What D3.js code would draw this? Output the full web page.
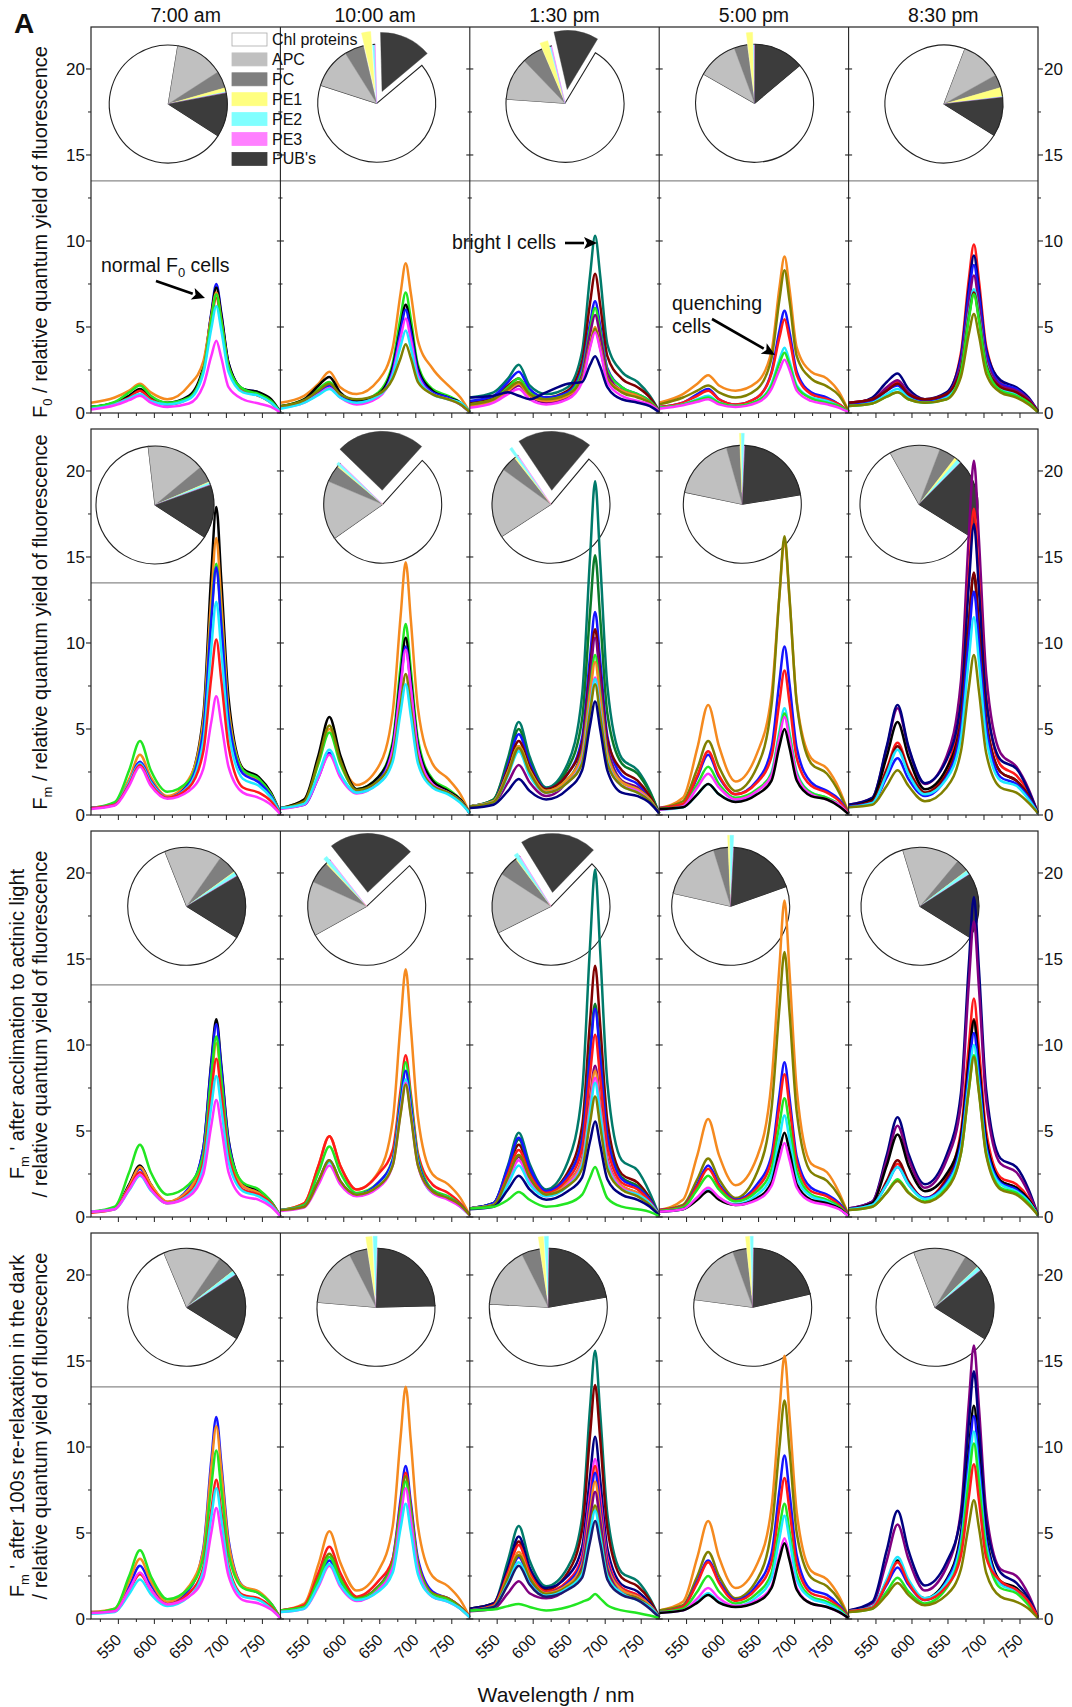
<!DOCTYPE html>
<html><head><meta charset="utf-8">
<script src="https://cdn.jsdelivr.net/npm/d3@7"></script>
<style>body{margin:0;background:#fff}svg text{font-family:"Liberation Sans",Arial,sans-serif;fill:#111}</style>
</head><body>
<svg id="chart" width="1072" height="1707"></svg>
<script>
// ---------------- DATA ----------------
const wavelengths = [512, 545, 565, 580, 595, 618, 648, 668, 679, 686, 693, 703, 723, 745, 762, 775];
const times = ["7:00 am", "10:00 am", "1:30 pm", "5:00 pm", "8:30 pm"];
const xDomain = [512, 775];
const yDomain = [0, 22.44];
const xMajorTicks = [550, 600, 650, 700, 750];
const xMinorTicks = [525, 575, 625, 675, 725];
const yMajorTicks = [0, 5, 10, 15, 20];
const yMinorTicks = [2.5, 7.5, 12.5, 17.5];
const splitLevel = 13.5;

const pieCategories = ["Chl proteins", "APC", "PC", "PE1", "PE2", "PE3", "PUB's"];

const spectraF0 = [
 [["b",[0.35,0.6,1.0,1.3,0.8,0.5,0.9,2.6,5.8,7.5,5.8,2.9,1.4,1.2,0.7,0.05]],
  ["k",[0.35,0.6,1.0,1.4,0.9,0.6,1.0,2.7,5.7,7.3,5.7,2.9,1.4,1.2,0.8,0.05]],
  ["o",[0.6,0.9,1.3,1.7,1.2,0.8,1.6,3.0,5.6,7.0,5.4,2.7,1.3,1.0,0.6,0.05]],
  ["r",[0.3,0.55,0.9,1.3,0.8,0.5,0.85,2.5,5.3,6.7,5.2,2.6,1.3,1.0,0.6,0.05]],
  ["g",[0.35,0.65,1.2,1.6,1.0,0.6,0.9,2.5,5.4,6.9,5.3,2.7,1.4,1.1,0.7,0.05]],
  ["c",[0.25,0.5,0.85,1.1,0.7,0.5,0.8,2.3,4.9,6.2,4.8,2.4,1.2,1.0,0.6,0.05]],
  ["m",[0.2,0.45,0.75,1.0,0.6,0.35,0.55,1.6,3.3,4.2,3.2,1.5,0.8,0.55,0.35,0.02]]],
 [["o",[0.6,1.0,1.7,2.4,1.5,1.1,1.9,3.8,7.0,8.7,7.0,4.2,2.6,1.6,0.9,0.05]],
  ["g",[0.4,0.8,1.4,1.8,1.1,0.7,1.2,2.9,5.6,7.0,5.5,2.8,1.4,1.0,0.6,0.05]],
  ["k",[0.4,0.8,1.6,2.1,1.2,0.7,1.1,2.7,5.0,6.3,5.0,2.6,1.3,0.9,0.6,0.05]],
  ["b",[0.3,0.7,1.2,1.6,1.0,0.6,1.0,2.5,4.8,6.0,4.7,2.4,1.2,0.9,0.5,0.05]],
  ["m",[0.3,0.6,1.1,1.45,0.9,0.5,0.9,2.3,4.4,5.5,4.3,2.2,1.1,0.8,0.5,0.05]],
  ["c",[0.25,0.6,1.05,1.4,0.9,0.6,1.0,2.2,3.9,4.8,3.8,2.0,1.1,0.8,0.6,0.05]],
  ["ol",[0.4,0.75,1.3,1.7,1.1,0.8,1.1,2.0,3.2,4.0,3.2,1.8,1.1,0.8,0.5,0.05]]],
 [["tl",[0.9,1.2,2.0,2.8,1.6,1.1,1.5,3.6,8.0,10.3,8.0,4.0,2.4,1.8,1.0,0.1]],
  ["dr",[0.6,0.9,1.6,2.0,1.2,0.9,1.3,3.0,6.4,8.1,6.3,3.3,2.0,1.5,0.9,0.1]],
  ["b",[0.7,1.0,1.8,2.4,1.4,0.9,1.2,2.6,5.2,6.5,5.1,2.6,1.5,1.1,0.7,0.1]],
  ["g",[0.5,0.8,1.5,2.0,1.2,0.8,1.1,2.4,4.9,6.1,4.8,2.5,1.5,1.1,0.7,0.1]],
  ["pu",[0.4,0.7,1.2,1.6,1.0,0.6,0.9,2.2,4.6,5.7,4.5,2.3,1.3,1.0,0.6,0.1]],
  ["o",[0.4,0.7,1.3,1.7,1.0,0.7,1.0,2.0,4.0,5.0,3.9,2.0,1.3,1.0,0.6,0.1]],
  ["ol",[0.5,0.8,1.4,1.8,1.1,0.8,1.1,2.0,3.9,4.9,3.8,2.0,1.2,0.9,0.6,0.1]],
  ["m",[0.3,0.6,1.1,1.4,0.8,0.5,0.8,1.8,3.8,4.7,3.7,1.8,1.0,0.7,0.5,0.1]],
  ["nv",[0.9,1.0,1.2,1.0,0.8,1.2,1.7,1.8,2.8,3.3,2.7,1.5,0.8,0.6,0.4,0.05]]],
 [["o",[0.6,1.1,1.7,2.2,1.6,1.3,1.8,3.6,7.3,9.1,7.2,3.8,2.4,2.0,1.2,0.1]],
  ["ol",[0.5,0.9,1.3,1.6,1.2,0.9,1.4,3.2,6.6,8.3,6.5,3.3,2.0,1.55,1.0,0.1]],
  ["b",[0.35,0.6,1.1,1.4,0.8,0.5,0.9,2.4,4.8,5.95,4.7,2.4,1.2,0.9,0.5,0.05]],
  ["r",[0.35,0.6,1.0,1.3,0.8,0.5,0.9,2.3,4.4,5.45,4.3,2.2,1.1,0.8,0.5,0.05]],
  ["c",[0.3,0.5,0.8,1.0,0.6,0.4,0.7,1.7,3.1,3.8,3.0,1.6,0.9,0.7,0.4,0.05]],
  ["g",[0.3,0.5,0.75,0.9,0.6,0.4,0.7,1.6,2.9,3.5,2.8,1.5,0.85,0.6,0.4,0.05]],
  ["m",[0.25,0.45,0.65,0.8,0.5,0.35,0.6,1.4,2.5,3.1,2.5,1.3,0.7,0.5,0.3,0.05]]],
 [["r",[0.6,0.8,1.4,1.8,1.1,0.7,1.1,3.5,7.8,9.8,7.7,3.9,1.8,1.3,0.7,0.1]],
  ["nv",[0.5,0.9,1.8,2.3,1.4,0.8,1.2,3.3,7.3,9.15,7.2,3.7,1.9,1.5,0.9,0.1]],
  ["b",[0.5,0.7,1.3,1.6,1.0,0.7,1.0,3.1,6.9,8.6,6.8,3.5,1.7,1.4,0.8,0.1]],
  ["pu",[0.6,0.8,1.5,1.9,1.2,0.8,1.1,2.9,6.4,8.0,6.3,3.2,1.6,1.3,0.8,0.1]],
  ["c",[0.4,0.6,1.1,1.4,0.9,0.6,0.9,2.6,5.8,7.2,5.7,2.9,1.4,1.1,0.6,0.05]],
  ["dr",[0.6,0.8,1.3,1.7,1.1,0.8,1.1,2.6,5.6,7.0,5.5,2.8,1.5,1.2,0.7,0.1]],
  ["g",[0.4,0.55,0.95,1.2,0.8,0.6,0.8,2.4,5.5,6.9,5.4,2.7,1.3,1.0,0.6,0.05]],
  ["ol",[0.4,0.55,0.95,1.2,0.8,0.6,0.8,2.1,4.6,5.75,4.5,2.3,1.2,0.9,0.5,0.05]]]
];

const spectraFm = [
 [["k",[0.4,0.6,1.9,3.0,1.9,1.0,2.0,5.8,14.0,17.9,13.6,6.8,2.7,2.2,1.3,0.1]],
  ["o",[0.4,0.7,2.1,3.5,2.2,1.1,2.1,5.5,12.6,16.1,12.3,6.2,2.6,2.0,1.2,0.1]],
  ["g",[0.4,0.75,2.6,4.3,2.6,1.35,2.0,5.0,11.5,14.6,11.2,5.7,2.6,2.1,1.2,0.1]],
  ["b",[0.4,0.6,1.9,3.1,2.0,1.0,1.8,4.9,11.3,14.4,11.0,5.6,2.4,1.9,1.1,0.1]],
  ["c",[0.4,0.6,1.9,3.0,1.9,1.0,1.7,4.3,9.7,12.4,9.5,4.9,2.1,1.7,1.0,0.1]],
  ["r",[0.4,0.6,1.8,2.9,1.8,1.0,1.6,3.7,8.0,10.2,7.8,4.0,1.6,1.3,0.8,0.05]],
  ["m",[0.35,0.55,1.7,2.8,1.7,0.95,1.4,2.7,5.4,6.9,5.3,2.8,1.3,1.0,0.6,0.05]]],
 [["o",[0.4,0.9,3.1,5.0,3.2,1.75,2.8,6.0,11.6,14.7,11.4,6.2,3.0,2.1,1.2,0.1]],
  ["g",[0.4,0.8,3.0,4.8,3.0,1.5,2.2,4.3,8.7,11.1,8.5,4.4,2.1,1.5,0.9,0.1]],
  ["k",[0.4,0.9,3.5,5.7,3.5,1.5,2.2,4.1,8.1,10.3,7.9,4.1,2.0,1.4,0.9,0.1]],
  ["b",[0.4,0.6,2.2,3.6,2.3,1.3,2.0,3.9,7.7,9.8,7.5,3.9,1.8,1.3,0.8,0.1]],
  ["m",[0.35,0.6,2.2,3.5,2.2,1.25,1.9,3.8,7.5,9.6,7.4,3.8,1.8,1.3,0.8,0.1]],
  ["ol",[0.4,0.8,3.2,5.2,3.2,1.45,2.0,3.4,6.5,8.2,6.3,3.3,1.7,1.3,0.8,0.1]],
  ["c",[0.4,0.65,2.4,3.8,2.4,1.3,1.8,3.1,6.0,7.6,5.8,3.0,1.6,1.2,0.7,0.1]]],
 [["tl",[0.5,0.9,3.3,5.4,3.4,1.6,3.0,7.0,15.0,19.4,14.8,7.5,3.3,2.6,1.4,0.1]],
  ["dg",[0.5,0.9,3.1,5.0,3.1,1.5,2.7,5.6,11.8,15.1,11.5,5.9,3.0,2.4,1.3,0.1]],
  ["b",[0.5,0.8,2.9,4.7,3.0,1.5,2.4,4.5,9.2,11.8,9.0,4.6,2.3,1.8,1.0,0.1]],
  ["dr",[0.5,0.8,2.7,4.3,2.8,1.5,2.4,4.2,8.5,10.8,8.3,4.4,2.6,2.0,1.1,0.1]],
  ["pu",[0.5,0.7,1.9,2.9,1.9,1.1,2.0,3.9,8.0,10.3,7.9,4.0,2.0,1.6,0.9,0.1]],
  ["g",[0.5,0.8,2.5,4.0,2.6,1.4,2.1,3.6,7.3,9.3,7.1,3.6,1.9,1.5,0.9,0.1]],
  ["o",[0.5,0.8,2.5,4.0,2.6,1.4,2.1,3.5,7.0,8.9,6.8,3.5,1.9,1.5,0.9,0.1]],
  ["m",[0.5,0.75,2.4,3.8,2.4,1.3,1.9,3.2,6.3,8.0,6.1,3.1,1.7,1.4,0.8,0.1]],
  ["c",[0.5,0.75,2.3,3.7,2.3,1.3,1.9,3.1,6.2,7.9,6.0,3.1,1.7,1.3,0.8,0.1]],
  ["ol",[0.5,0.75,2.4,3.9,2.5,1.3,1.9,3.0,6.0,7.6,5.8,3.0,1.7,1.3,0.8,0.1]],
  ["nv",[0.4,0.6,1.4,2.1,1.4,0.9,1.5,2.6,5.2,6.6,5.0,2.6,1.3,1.1,0.7,0.1]]],
 [["o",[0.4,1.0,3.9,6.4,4.0,1.95,3.6,7.0,12.8,16.0,12.5,6.6,3.3,2.7,1.5,0.1]],
  ["ol",[0.4,0.8,2.7,4.3,2.8,1.4,2.8,6.4,12.8,16.2,12.6,6.5,3.0,2.4,1.3,0.1]],
  ["b",[0.4,0.6,2.2,3.5,2.2,1.2,2.0,3.9,7.8,9.8,7.6,3.9,1.9,1.4,0.9,0.1]],
  ["r",[0.4,0.65,2.3,3.7,2.3,1.2,1.9,3.4,6.6,8.4,6.5,3.3,1.7,1.3,0.8,0.1]],
  ["c",[0.3,0.45,1.2,1.8,1.2,0.8,1.4,2.5,4.9,6.2,4.8,2.5,1.3,1.0,0.6,0.05]],
  ["g",[0.35,0.5,1.8,2.8,1.8,1.0,1.5,2.4,4.7,5.9,4.6,2.4,1.3,1.0,0.6,0.05]],
  ["m",[0.3,0.5,1.6,2.4,1.6,0.9,1.4,2.3,4.5,5.7,4.4,2.3,1.2,0.9,0.6,0.05]],
  ["k",[0.35,0.45,1.2,1.8,1.2,0.75,1.2,2.0,4.0,5.0,3.9,2.0,1.1,0.9,0.5,0.05]]],
 [["pu",[0.6,1.0,3.9,6.2,3.9,1.8,3.4,7.8,16.3,20.6,16.0,8.2,3.6,2.8,1.5,0.1]],
  ["r",[0.5,0.8,2.7,4.2,2.7,1.3,2.7,6.7,14.0,17.8,13.7,6.9,2.9,2.3,1.3,0.1]],
  ["nv",[0.6,1.0,4.0,6.4,4.0,1.85,3.2,6.6,13.4,16.9,13.1,6.7,3.2,2.7,1.4,0.1]],
  ["k",[0.5,0.9,3.4,5.4,3.4,1.5,2.7,5.5,11.1,14.0,10.8,5.5,2.5,2.0,1.1,0.1]],
  ["dr",[0.5,0.8,2.6,4.0,2.6,1.3,2.4,5.5,11.2,14.1,10.9,5.5,2.5,2.0,1.1,0.1]],
  ["b",[0.5,0.7,2.2,3.3,2.1,1.1,2.2,5.0,10.3,13.0,10.0,5.1,2.2,1.8,1.0,0.1]],
  ["c",[0.45,0.7,2.4,3.8,2.4,1.2,2.1,4.5,9.1,11.5,8.9,4.5,2.0,1.7,0.9,0.1]],
  ["ol",[0.45,0.6,1.7,2.6,1.7,0.8,1.6,3.7,7.4,9.3,7.2,3.6,1.6,1.3,0.7,0.1]]]
];

const spectraFmActinic = [
 [["k",[0.3,0.5,1.9,3.0,1.9,0.85,1.6,4.0,9.0,11.5,8.8,4.5,1.9,1.5,0.9,0.05]],
  ["b",[0.3,0.5,1.8,2.8,1.8,0.85,1.7,4.0,8.8,11.2,8.6,4.4,1.8,1.4,0.8,0.05]],
  ["o",[0.3,0.5,1.8,2.9,1.9,0.9,1.6,3.6,7.9,10.1,7.8,4.0,1.8,1.4,0.8,0.05]],
  ["g",[0.3,0.6,2.6,4.2,2.6,1.3,1.9,3.6,8.2,10.5,8.0,4.1,2.0,1.6,0.9,0.05]],
  ["r",[0.25,0.45,1.7,2.6,1.7,0.8,1.4,3.2,7.2,9.2,7.1,3.6,1.6,1.3,0.8,0.05]],
  ["c",[0.3,0.45,1.55,2.4,1.55,0.8,1.3,2.9,6.4,8.2,6.3,3.2,1.5,1.2,0.7,0.05]],
  ["m",[0.3,0.45,1.6,2.45,1.6,0.8,1.2,2.5,5.3,6.8,5.2,2.6,1.2,1.0,0.6,0.05]]],
 [["o",[0.4,0.8,3.0,4.7,3.0,1.6,2.6,5.6,11.3,14.4,11.1,5.8,2.5,1.9,1.1,0.1]],
  ["r",[0.4,0.8,3.0,4.7,3.0,1.6,2.5,3.9,7.4,9.4,7.2,3.7,1.9,1.4,0.8,0.1]],
  ["g",[0.4,0.7,2.6,4.1,2.6,1.4,2.0,3.4,7.0,9.0,6.9,3.5,1.6,1.2,0.7,0.1]],
  ["b",[0.4,0.6,2.1,3.3,2.1,1.3,2.0,3.3,6.7,8.5,6.5,3.3,1.5,1.1,0.7,0.1]],
  ["c",[0.4,0.6,2.0,3.2,2.0,1.3,1.8,3.1,6.3,8.0,6.1,3.1,1.4,1.1,0.6,0.1]],
  ["m",[0.35,0.55,1.9,3.0,1.9,1.2,1.7,3.0,6.1,7.8,6.0,3.0,1.4,1.0,0.6,0.1]],
  ["ol",[0.4,0.6,2.1,3.3,2.1,1.3,1.8,3.0,6.0,7.7,5.9,3.0,1.5,1.1,0.7,0.1]]],
 [["tl",[0.5,0.8,3.0,4.9,3.1,1.6,3.2,7.3,15.8,20.2,15.5,7.8,3.3,2.7,1.4,0.1]],
  ["dr",[0.5,0.8,2.7,4.2,2.7,1.5,2.6,5.3,11.4,14.6,11.2,5.6,2.5,2.0,1.1,0.1]],
  ["dg",[0.5,0.8,2.8,4.5,2.8,1.5,2.4,4.6,9.7,12.4,9.5,4.8,2.3,1.8,1.0,0.1]],
  ["b",[0.5,0.8,2.9,4.6,2.9,1.5,2.4,4.5,9.4,12.1,9.3,4.7,2.2,1.7,1.0,0.1]],
  ["r",[0.5,0.7,2.5,3.9,2.5,1.4,2.2,4.0,8.3,10.6,8.1,4.1,2.0,1.6,0.9,0.1]],
  ["pu",[0.5,0.7,2.2,3.5,2.2,1.3,2.0,3.4,6.9,8.8,6.7,3.4,1.8,1.4,0.8,0.1]],
  ["o",[0.5,0.7,2.3,3.6,2.3,1.3,2.0,3.3,6.6,8.5,6.5,3.3,1.8,1.4,0.8,0.1]],
  ["m",[0.5,0.7,2.1,3.3,2.1,1.2,1.9,3.1,6.3,8.1,6.2,3.2,1.7,1.3,0.8,0.1]],
  ["c",[0.5,0.7,1.9,3.0,1.9,1.2,1.8,3.0,6.1,7.8,6.0,3.0,1.6,1.3,0.8,0.1]],
  ["ol",[0.5,0.7,2.3,3.6,2.3,1.3,1.8,2.8,5.5,7.0,5.3,2.8,1.6,1.2,0.7,0.1]],
  ["nv",[0.45,0.6,1.6,2.4,1.6,1.0,1.5,2.3,4.4,5.55,4.2,2.2,1.3,1.0,0.6,0.1]],
  ["g",[0.5,0.6,1.0,1.45,1.0,0.6,0.8,1.3,2.3,2.9,2.2,1.1,0.6,0.45,0.3,0.05]]],
 [["o",[0.4,1.0,3.6,5.7,3.6,1.85,3.5,7.9,14.6,18.4,14.2,7.4,3.1,2.6,1.4,0.1]],
  ["ol",[0.4,0.7,2.2,3.4,2.2,1.1,2.6,6.3,12.2,15.4,11.9,6.1,2.6,2.1,1.2,0.1]],
  ["b",[0.4,0.6,1.9,3.0,1.9,1.0,1.9,3.6,7.1,9.0,6.9,3.5,1.7,1.3,0.8,0.1]],
  ["r",[0.4,0.6,1.8,2.8,1.8,0.95,1.7,3.3,6.5,8.3,6.4,3.2,1.5,1.2,0.7,0.1]],
  ["g",[0.35,0.55,1.6,2.4,1.6,0.9,1.5,2.8,5.4,6.9,5.3,2.7,1.3,1.0,0.6,0.05]],
  ["c",[0.3,0.45,1.1,1.6,1.1,0.75,1.3,2.4,4.6,5.9,4.5,2.3,1.2,0.9,0.5,0.05]],
  ["k",[0.3,0.45,1.0,1.5,1.0,0.7,1.1,2.0,3.9,4.9,3.8,1.9,1.0,0.8,0.5,0.05]],
  ["m",[0.3,0.45,1.15,1.7,1.15,0.7,1.0,1.8,3.4,4.3,3.3,1.7,0.9,0.7,0.45,0.05]]],
 [["nv",[0.5,0.9,3.6,5.8,3.7,1.9,3.6,7.2,14.7,18.6,14.4,7.4,3.4,2.9,1.6,0.1]],
  ["pu",[0.5,0.9,3.3,5.3,3.4,1.7,3.3,6.6,13.6,17.2,13.3,6.8,3.1,2.6,1.4,0.1]],
  ["r",[0.45,0.7,2.0,3.1,2.0,1.1,2.3,5.0,10.0,12.7,9.8,5.0,2.3,1.9,1.1,0.1]],
  ["dr",[0.45,0.7,2.1,3.3,2.1,1.1,2.2,4.6,9.1,11.5,8.9,4.5,2.1,1.7,1.0,0.1]],
  ["k",[0.45,0.8,3.0,4.8,3.0,1.5,2.5,4.7,9.0,11.4,8.8,4.5,2.1,1.7,1.0,0.1]],
  ["b",[0.45,0.7,1.9,2.9,1.9,1.1,2.0,4.3,8.5,10.7,8.3,4.2,2.0,1.6,0.9,0.1]],
  ["c",[0.45,0.7,1.9,2.9,1.9,1.05,1.9,4.0,7.9,10.0,7.7,3.9,1.9,1.5,0.9,0.1]],
  ["g",[0.4,0.6,1.45,2.2,1.45,0.9,1.7,3.7,7.4,9.4,7.3,3.7,1.7,1.4,0.8,0.1]],
  ["ol",[0.4,0.6,1.4,2.1,1.4,0.85,1.6,3.7,7.4,9.3,7.2,3.6,1.6,1.3,0.7,0.1]]]
];

const spectraFmDark = [
 [["b",[0.4,0.5,1.9,3.1,2.0,0.95,1.7,4.1,9.2,11.75,9.0,4.6,1.9,1.5,0.9,0.05]],
  ["o",[0.4,0.6,2.2,3.5,2.2,1.0,1.9,4.0,8.8,11.2,8.6,4.4,1.9,1.6,0.9,0.05]],
  ["g",[0.35,0.6,2.5,4.0,2.5,1.15,1.8,3.6,7.7,9.8,7.5,3.8,1.8,1.5,0.9,0.05]],
  ["r",[0.35,0.45,1.65,2.6,1.7,0.85,1.5,3.0,6.3,8.1,6.2,3.1,1.4,1.2,0.7,0.05]],
  ["c",[0.3,0.4,1.45,2.3,1.45,0.75,1.3,2.8,5.9,7.6,5.8,2.9,1.3,1.1,0.6,0.05]],
  ["m",[0.35,0.45,1.7,2.7,1.7,0.85,1.3,2.4,5.0,6.45,4.9,2.5,1.1,0.9,0.55,0.05]]],
 [["o",[0.5,0.9,3.2,5.1,3.3,1.65,2.8,5.4,10.6,13.5,10.4,5.4,2.5,1.9,1.1,0.1]],
  ["b",[0.5,0.7,2.2,3.4,2.2,1.2,1.9,3.5,7.0,8.9,6.8,3.5,1.6,1.2,0.7,0.1]],
  ["r",[0.5,0.8,2.7,4.2,2.7,1.3,2.2,3.5,6.7,8.5,6.5,3.3,1.5,1.2,0.7,0.1]],
  ["ol",[0.5,0.7,2.4,3.8,2.4,1.2,1.9,3.3,6.5,8.3,6.4,3.2,1.5,1.2,0.7,0.1]],
  ["g",[0.5,0.7,2.3,3.6,2.3,1.15,1.8,3.2,6.3,8.0,6.1,3.1,1.4,1.1,0.6,0.1]],
  ["m",[0.4,0.6,1.9,3.1,1.9,1.05,1.7,3.0,5.9,7.6,5.8,2.9,1.3,1.0,0.6,0.1]],
  ["c",[0.4,0.6,2.0,3.2,2.0,1.1,1.6,2.7,5.3,6.7,5.1,2.6,1.3,1.0,0.6,0.1]]],
 [["tl",[0.6,0.9,3.4,5.4,3.4,1.9,3.0,5.9,12.3,15.6,12.0,6.1,2.7,2.2,1.2,0.1]],
  ["dr",[0.6,0.9,2.9,4.5,2.9,1.7,2.7,5.2,10.7,13.6,10.5,5.3,2.4,1.9,1.1,0.1]],
  ["nv",[0.6,0.9,3.0,4.8,3.0,1.8,2.5,4.2,8.3,10.6,8.1,4.1,2.0,1.6,0.9,0.1]],
  ["m",[0.5,0.7,2.3,3.6,2.3,1.5,2.2,3.7,7.3,9.3,7.1,3.6,1.8,1.4,0.8,0.1]],
  ["r",[0.5,0.8,2.7,4.3,2.7,1.6,2.2,3.6,7.0,8.9,6.8,3.5,1.8,1.4,0.8,0.1]],
  ["b",[0.5,0.7,2.3,3.6,2.3,1.5,2.1,3.4,6.7,8.5,6.5,3.3,1.7,1.3,0.8,0.1]],
  ["o",[0.5,0.75,2.5,3.9,2.5,1.5,2.0,3.2,6.3,8.0,6.1,3.1,1.7,1.3,0.8,0.1]],
  ["pu",[0.45,0.6,1.5,2.2,1.5,1.2,1.8,3.0,5.8,7.4,5.7,2.9,1.5,1.2,0.7,0.1]],
  ["ol",[0.5,0.7,2.4,3.7,2.4,1.45,1.9,2.8,5.2,6.6,5.0,2.6,1.5,1.2,0.7,0.1]],
  ["c",[0.5,0.7,2.1,3.3,2.1,1.35,1.8,2.6,5.0,6.3,4.8,2.5,1.5,1.1,0.7,0.1]],
  ["nv2",[0.5,0.7,2.0,3.1,2.0,1.3,1.7,2.4,4.5,5.7,4.4,2.3,1.4,1.1,0.6,0.1]],
  ["g",[0.5,0.55,0.75,0.87,0.7,0.5,0.7,1.0,1.2,1.45,1.2,0.8,0.5,0.35,0.2,0.05]]],
 [["o",[0.5,1.0,3.6,5.7,3.6,1.8,3.2,6.5,12.1,15.3,11.8,6.2,2.8,2.3,1.3,0.1]],
  ["ol",[0.5,0.8,2.5,3.9,2.5,1.2,2.3,5.2,10.0,12.7,9.8,5.0,2.4,1.9,1.1,0.1]],
  ["b",[0.4,0.7,2.2,3.4,2.2,1.1,2.0,3.8,7.5,9.5,7.3,3.7,1.7,1.4,0.8,0.1]],
  ["r",[0.4,0.7,2.1,3.3,2.1,1.05,1.8,3.3,6.5,8.2,6.3,3.2,1.5,1.2,0.7,0.1]],
  ["g",[0.4,0.6,1.6,2.5,1.6,0.9,1.5,2.7,5.3,6.7,5.1,2.6,1.3,1.0,0.6,0.05]],
  ["c",[0.35,0.5,1.0,1.5,1.0,0.75,1.3,2.4,4.7,6.0,4.6,2.3,1.2,0.9,0.5,0.05]],
  ["m",[0.35,0.5,1.2,1.8,1.2,0.75,1.1,1.9,3.7,4.7,3.6,1.8,0.9,0.7,0.4,0.05]],
  ["k",[0.35,0.5,0.95,1.4,0.95,0.7,1.0,1.8,3.5,4.4,3.4,1.7,0.9,0.7,0.4,0.05]]],
 [["pu",[0.5,0.9,3.4,5.5,3.5,1.65,3.0,6.3,12.6,15.9,12.3,6.3,2.9,2.5,1.4,0.1]],
  ["nv",[0.5,1.0,4.0,6.3,4.0,1.95,3.3,6.0,11.4,14.4,11.1,5.7,2.7,2.1,1.2,0.1]],
  ["k",[0.45,0.7,2.2,3.4,2.2,1.2,2.3,5.0,9.8,12.4,9.6,4.9,2.2,1.8,1.0,0.1]],
  ["b",[0.45,0.65,2.0,3.0,2.0,1.1,2.2,4.7,9.3,11.8,9.1,4.6,2.1,1.7,1.0,0.1]],
  ["c",[0.45,0.7,2.3,3.6,2.3,1.2,2.1,4.4,8.6,10.9,8.4,4.3,2.0,1.6,0.9,0.1]],
  ["g",[0.4,0.6,1.6,2.4,1.6,0.9,1.8,4.1,8.1,10.2,7.9,4.0,1.8,1.5,0.8,0.1]],
  ["r",[0.45,0.65,2.1,3.3,2.1,1.1,1.9,3.7,7.1,9.0,6.9,3.6,2.2,1.7,1.0,0.1]],
  ["ol",[0.4,0.6,1.4,2.1,1.4,0.8,1.4,2.9,5.5,6.9,5.3,2.7,1.3,1.0,0.6,0.05]]]
];

// pie shares (%) in the order of pieCategories
const pieShareF0 = [
 [68.5,13.3,4.7,1.1,0.2,0.1,12.1],
 [66.1,11.1,5.3,2.5,0.6,0.1,14.3],
 [67.5,11.7,5.8,2.2,0.4,0.2,12.2],
 [69.4,11.1,3.6,1.7,0.2,0.2,13.8],
 [71.9,11.1,3.6,2.5,0.1,0.1,10.7]];
const pieShareFm = [
 [64.0,15.8,4.6,0.2,0.6,0.1,14.7],
 [53.6,16.1,4.7,0.3,0.8,0.1,24.4],
 [54.7,19.2,4.4,0.3,0.8,0.1,20.5],
 [55.9,17.3,3.7,0.4,0.8,0.2,21.7],
 [58.0,13.9,4.7,0.8,1.1,0.1,21.4]];
const pieShareFmActinic = [
 [60.1,15.7,5.3,0.2,1.1,0.1,17.5],
 [54.0,14.9,6.1,0.3,1.1,0.1,23.5],
 [55.4,16.6,5.6,0.2,1.1,0.1,21.0],
 [59.0,16.7,4.0,0.5,1.0,0.1,18.7],
 [61.4,15.8,3.5,0.1,1.1,0.1,18.0]];
const pieShareFmDark = [
 [59.8,15.8,4.9,0.1,1.1,0.1,18.2],
 [51.8,16.2,5.0,1.7,1.1,0.1,24.1],
 [53.7,16.7,5.0,1.4,1.1,0.1,22.0],
 [55.7,17.4,3.8,1.1,0.8,0.1,21.1],
 [60.2,14.5,4.2,0.1,1.1,0.1,19.8]];

// ---------------- PRESENTATION ----------------
const lineColors = {k:"#000000", b:"#1414ff", r:"#ff1a1a", g:"#22e622", o:"#f58a1f", c:"#1ee8ff",
  m:"#ff33ff", ol:"#808000", nv:"#000080", nv2:"#1a1a70", dr:"#800000", tl:"#007a6a", dg:"#0a7a2a", pu:"#800080"};
const pieColors = ["#ffffff", "#c0c0c0", "#7f7f7f", "#ffff80", "#80ffff", "#ff80ff", "#3c3c3c"];
const pieStartDeg = [[122.7,50,31,50,122],[123,42,40,80.7,122],[122,46.5,44,70.4,122],[122,88.4,80,77,122.3]];
const pieCenters = [
 [[77.3,77],[96.3,76.3],[95.2,76.3],[95.4,76.3],[95.4,77]],
 [[64,76],[102.3,75.3],[81.2,75.3],[83.1,75.3],[70.4,75.3]],
 [[95.7,75.3],[86.3,75.3],[81.2,75.3],[71.5,75.3],[71.4,75.3]],
 [[95.7,74.3],[95.6,74.3],[78.5,74.3],[93.5,74.3],[86.4,74.3]]];
const pieExplode = [
 [[0,0,0,0,0,0,0],[0,0,0,13,0,0,13],[0,0,0,6,0,0,14],[0,0,0,12,0,0,0],[0,0,0,0,0,0,0]],
 [[0,0,0,0,0,0,0],[0,0,0,0,2,0,14],[0,0,0,0,10,0,14],[0,0,0,12,12,0,0],[0,0,0,0,0,0,0]],
 [[0,0,0,0,0,0,0],[0,0,0,0,5,0,14],[0,0,0,0,4,0,14],[0,0,0,12,12,0,0],[0,0,0,0,0,0,0]],
 [[0,0,0,0,0,0,0],[0,0,0,12,12,0,0],[0,0,0,12,12,0,0],[0,0,0,12,12,0,0],[0,0,0,0,0,0,0]]];
const pieRadius = 59;

const layout = {left: 91, colW: 189.4, top: 27, rowH: 386, rowStep: 402};
const rowsSpectra = [spectraF0, spectraFm, spectraFmActinic, spectraFmDark];
const rowsPies = [pieShareF0, pieShareFm, pieShareFmActinic, pieShareFmDark];

const svg = d3.select("#chart");
const x = d3.scaleLinear().domain(xDomain).range([0, layout.colW]);
const y = d3.scaleLinear().domain(yDomain).range([layout.rowH, 0]);
const line = d3.line().x((d, i) => x(wavelengths[i])).y(d => y(d)).curve(d3.curveMonotoneX);
const right = layout.left + 5 * layout.colW;

function drawPie(g, shares, startDeg, explode, cx, cy, r) {
  const a0 = startDeg * Math.PI / 180;
  const arcs = d3.pie().sort(null).value(d => d).startAngle(a0).endAngle(a0 + 2 * Math.PI)(shares);
  const arc = d3.arc().innerRadius(0).outerRadius(r);
  const pg = g.append("g").attr("transform", `translate(${cx},${cy})`);
  arcs.forEach((a, i) => {
    const mid = (a.startAngle + a.endAngle) / 2, e = explode[i];
    pg.append("path").attr("d", arc(a))
      .attr("transform", `translate(${Math.sin(mid) * e},${-Math.cos(mid) * e})`)
      .attr("fill", pieColors[i])
      .attr("stroke", i === 0 ? "#222" : pieColors[i])
      .attr("stroke-width", i === 0 ? 1.1 : 0.4);
  });
  arcs.forEach((a, i) => {
    if (i > 0 && explode[i] === 0) {
      const p = d3.path();
      p.arc(0, 0, r, a.startAngle - Math.PI / 2, a.endAngle - Math.PI / 2);
      pg.append("path").attr("d", p.toString()).attr("fill", "none").attr("stroke", "#222").attr("stroke-width", 1.1);
    }
  });
}

rowsSpectra.forEach((row, ri) => {
  const top = layout.top + ri * layout.rowStep;
  const rg = svg.append("g").attr("transform", `translate(0,${top})`);
  rg.append("line").attr("x1", layout.left).attr("x2", right)
    .attr("y1", y(splitLevel)).attr("y2", y(splitLevel)).attr("stroke", "#8a8a8a").attr("stroke-width", 1.2);
  row.forEach((panel, ci) => {
    const left = layout.left + ci * layout.colW;
    const g = rg.append("g").attr("transform", `translate(${left},0)`);
    const c = pieCenters[ri][ci];
    drawPie(g, rowsPies[ri][ci], pieStartDeg[ri][ci], pieExplode[ri][ci], c[0], c[1], pieRadius);
    panel.forEach(([key, vals]) => {
      g.append("path").datum(vals).attr("d", line).attr("fill", "none")
        .attr("stroke", lineColors[key]).attr("stroke-width", 2.5).attr("stroke-linejoin", "round");
    });
    xMajorTicks.forEach(t => g.append("line").attr("x1", x(t)).attr("x2", x(t)).attr("y1", layout.rowH).attr("y2", layout.rowH + 5).attr("stroke", "#222"));
    xMinorTicks.forEach(t => g.append("line").attr("x1", x(t)).attr("x2", x(t)).attr("y1", layout.rowH).attr("y2", layout.rowH + 3).attr("stroke", "#222"));
    if (ri === 3) {
      xMajorTicks.forEach(t => g.append("text").attr("text-anchor", "end").attr("font-size", 16)
        .attr("transform", `translate(${x(t) + 4},${layout.rowH + 22}) rotate(-45)`).text(t));
    }
  });
  rg.append("rect").attr("x", layout.left).attr("y", 0).attr("width", 5 * layout.colW).attr("height", layout.rowH)
    .attr("fill", "none").attr("stroke", "#222").attr("stroke-width", 1.2);
  for (let i = 1; i < 5; i++) {
    const xx = layout.left + i * layout.colW;
    rg.append("line").attr("x1", xx).attr("x2", xx).attr("y1", 0).attr("y2", layout.rowH).attr("stroke", "#222").attr("stroke-width", 1.1);
  }
  for (let i = 0; i <= 5; i++) {
    const xx = layout.left + i * layout.colW;
    const l = i === 0 ? -5 : -3.5, rr = i === 5 ? 5 : 3.5;
    const l0 = i === 5 ? 0 : l, r0 = i === 0 ? 0 : rr;
    yMajorTicks.forEach(t => rg.append("line").attr("x1", xx + l0).attr("x2", xx + r0).attr("y1", y(t)).attr("y2", y(t)).attr("stroke", "#222").attr("stroke-width", 1.1));
    yMinorTicks.forEach(t => rg.append("line").attr("x1", xx + l0 * 0.6).attr("x2", xx + r0 * 0.6).attr("y1", y(t)).attr("y2", y(t)).attr("stroke", "#222"));
  }
  yMajorTicks.forEach(t => {
    rg.append("text").attr("x", layout.left - 6).attr("y", y(t) + 6).attr("text-anchor", "end").attr("font-size", 17).text(t);
    rg.append("text").attr("x", right + 6).attr("y", y(t) + 6).attr("text-anchor", "start").attr("font-size", 17).text(t);
  });
});

times.forEach((t, i) => svg.append("text").attr("x", layout.left + (i + 0.5) * layout.colW).attr("y", 22)
  .attr("text-anchor", "middle").attr("font-size", 19.5).text(t));
svg.append("text").attr("x", 14).attr("y", 33).attr("font-size", 28).attr("font-weight", "bold").text("A");

function yLabel(xb, yc, parts) {
  const t = svg.append("text").attr("transform", `translate(${xb},${yc}) rotate(-90)`).attr("text-anchor", "middle").attr("font-size", 20);
  parts.forEach(p => {
    const s = t.append("tspan").text(p.t);
    if (p.sub) s.attr("font-size", 13).attr("dy", 5);
    if (p.up) s.attr("dy", -5);
  });
}
const rowMid = i => layout.top + i * layout.rowStep + layout.rowH / 2;
yLabel(46.5, rowMid(0) + 12, [{t:"F"},{t:"0",sub:1},{t:" / relative quantum yield of fluorescence",up:1}]);
yLabel(46.5, rowMid(1), [{t:"F"},{t:"m",sub:1},{t:" / relative quantum yield of fluorescence",up:1}]);
yLabel(24, rowMid(2), [{t:"F"},{t:"m",sub:1},{t:" ' after acclimation to actinic light",up:1}]);
yLabel(47, rowMid(2), [{t:"/ relative quantum yield of fluorescence"}]);
yLabel(24, rowMid(3), [{t:"F"},{t:"m",sub:1},{t:" ' after 100s  re-relaxation in the dark",up:1}]);
yLabel(47, rowMid(3), [{t:"/ relative quantum yield of fluorescence"}]);

svg.append("text").attr("x", 556).attr("y", 1702).attr("text-anchor", "middle").attr("font-size", 21).text("Wavelength / nm");

const lg = svg.append("g");
pieCategories.forEach((c, i) => {
  const cy = 39.5 + i * 19.9;
  lg.append("rect").attr("x", 232).attr("y", cy - 6.5).attr("width", 35).attr("height", 13)
    .attr("fill", pieColors[i]).attr("stroke", i === 0 ? "#aaa" : pieColors[i]).attr("stroke-width", 0.8);
  lg.append("text").attr("x", 272).attr("y", cy + 5.5).attr("font-size", 16).attr("fill", "#222").text(c);
});

function arrow(x1, y1, x2, y2) {
  const ang = Math.atan2(y2 - y1, x2 - x1), hl = 13, hw = 6;
  const bx = x2 - Math.cos(ang) * hl, by = y2 - Math.sin(ang) * hl;
  svg.append("line").attr("x1", x1).attr("y1", y1).attr("x2", bx).attr("y2", by).attr("stroke", "#000").attr("stroke-width", 2.6);
  const px = -Math.sin(ang) * hw, py = Math.cos(ang) * hw;
  svg.append("path").attr("d", `M${x2},${y2}L${bx + px},${by + py}L${bx + Math.cos(ang) * 3},${by + Math.sin(ang) * 3}L${bx - px},${by - py}Z`).attr("fill", "#000");
}
const ann = svg.append("text").attr("x", 101).attr("y", 272).attr("font-size", 19.5);
ann.append("tspan").text("normal F");
ann.append("tspan").attr("font-size", 13).attr("dy", 5).text("0");
ann.append("tspan").attr("dy", -5).text(" cells");
arrow(156, 281, 205, 298);
svg.append("text").attr("x", 452).attr("y", 249).attr("font-size", 19.5).text("bright I cells");
arrow(565, 243, 597, 243);
svg.append("text").attr("x", 672).attr("y", 310).attr("font-size", 19.5).text("quenching");
svg.append("text").attr("x", 672).attr("y", 333).attr("font-size", 19.5).text("cells");
arrow(712, 319, 775, 355);
</script>
</body></html>
